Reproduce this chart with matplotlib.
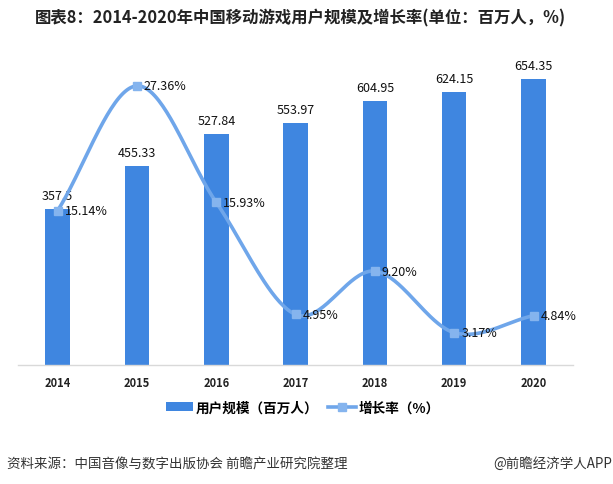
import numpy as np
import matplotlib
matplotlib.use("Agg")
import matplotlib.pyplot as plt
from matplotlib.lines import Line2D
from matplotlib.patches import Patch

plt.rcParams['font.family'] = ['Noto Sans CJK SC', 'DejaVu Sans']

years = ['2014', '2015', '2016', '2017', '2018', '2019', '2020']
users = [357.5, 455.33, 527.84, 553.97, 604.95, 624.15, 654.35]
user_labels = ['357.5', '455.33', '527.84', '553.97', '604.95', '624.15', '654.35']
growth = [15.14, 27.36, 15.93, 4.95, 9.20, 3.17, 4.84]
growth_labels = ['15.14%', '27.36%', '15.93%', '4.95%', '9.20%', '3.17%', '4.84%']

title = '图表8：2014-2020年中国移动游戏用户规模及增长率(单位：百万人，%)'
legend_bar = '用户规模（百万人）'
legend_line = '增长率（%）'
source = '资料来源：中国音像与数字出版协会 前瞻产业研究院整理'
credit = '@前瞻经济学人APP'

bar_color = '#3f86e0'
line_color = '#6fa6ea'
marker_color = '#85b4ee'

fig = plt.figure(figsize=(6.13, 4.85), dpi=100)
ax = fig.add_axes([0.0294, 0.2454, 0.9056, 0.631])
x = np.arange(len(years))
ax.bar(x, users, width=0.31, color=bar_color, zorder=2)
ax.set_xlim(-0.5, len(years) - 0.5)
ax.set_ylim(0, 700)
for s in ['top', 'right', 'left']:
    ax.spines[s].set_visible(False)
ax.spines['bottom'].set_color('#d9d9d9')
ax.spines['bottom'].set_linewidth(1.0)
ax.set_yticks([])
ax.set_xticks(x)
ax.set_xticklabels(years, fontsize=8, fontweight='bold', color='#222222')
ax.tick_params(axis='x', length=0, pad=8)
for xi, v, lab in zip(x, users, user_labels):
    ax.annotate(lab, (xi, v), xytext=(0, 5), textcoords='offset points',
                ha='center', va='bottom', fontsize=9, color='#111111')

ax2 = ax.twinx()
ax2.set_ylim(0, 30)
ax2.set_yticks([])
for s in ['top', 'right', 'left', 'bottom']:
    ax2.spines[s].set_visible(False)

# smooth curve through the data points (Catmull-Rom, as in a smoothed line)
px = np.array(x, dtype=float)
py = np.array(growth, dtype=float)
P = np.vstack([px, py]).T
ext = np.vstack([2 * P[0] - P[1], P, 2 * P[-1] - P[-2]])
curve = []
for i in range(1, len(ext) - 2):
    p0, p1, p2, p3 = ext[i - 1], ext[i], ext[i + 1], ext[i + 2]
    for t in np.linspace(0, 1, 40, endpoint=False):
        t2, t3 = t * t, t * t * t
        pt = 0.5 * ((2 * p1) + (-p0 + p2) * t + (2 * p0 - 5 * p1 + 4 * p2 - p3) * t2
                    + (-p0 + 3 * p1 - 3 * p2 + p3) * t3)
        curve.append(pt)
curve.append(P[-1])
curve = np.array(curve)
ax2.plot(curve[:, 0], curve[:, 1], color=line_color, lw=2.6, zorder=3, solid_capstyle='round')
ax2.plot(px, py, ls='none', marker='s', ms=6, color=marker_color, zorder=4)
for xi, v, lab in zip(px, py, growth_labels):
    ax2.annotate(lab, (xi, v), xytext=(5, 0), textcoords='offset points',
                 ha='left', va='center', fontsize=9, color='#111111')

fig.text(0.49, 0.962, title, ha='center', va='center', fontsize=11.8, fontweight='bold', color='#222222')

handles = [Patch(facecolor=bar_color, edgecolor='none'),
           Line2D([0], [0], color=line_color, lw=2.6, marker='s', ms=6, markerfacecolor=marker_color,
                  markeredgecolor=marker_color)]
leg = fig.legend(handles, [legend_bar, legend_line], loc='center', bbox_to_anchor=(0.494, 0.158),
                 ncol=2, frameon=False, prop={'size': 9.8, 'weight': 'bold'}, handlelength=2.0,
                 handletextpad=0.2, columnspacing=0.7)

fig.text(0.012, 0.043, source, ha='left', va='center', fontsize=9.7, color='#333333')
fig.text(0.999, 0.043, credit, ha='right', va='center', fontsize=9.7, color='#333333')

fig.savefig('out.png', dpi=100)
